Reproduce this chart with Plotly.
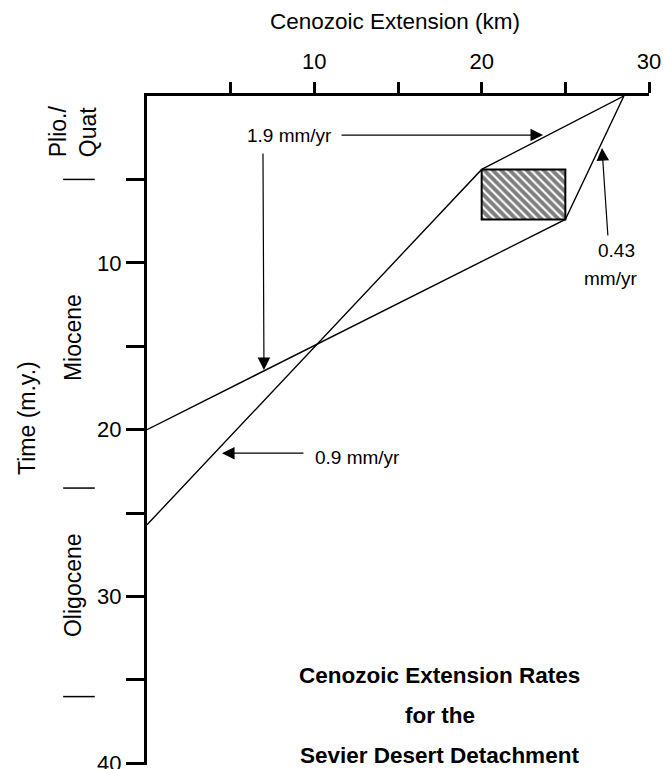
import plotly.graph_objects as go

# Extension (km) vs. time before present (m.y.) for two bounding histories
path_a_km = [28.5, 20.0, 0.0]
path_a_my = [0.0, 4.4, 25.7]
path_b_km = [28.5, 25.0, 0.0]
path_b_my = [0.0, 7.4, 20.0]

# Hatched box: range of extension between the two paths
box_km = [20.0, 25.0]
box_my = [4.4, 7.4]

# Axis ticks
x_tickvals = [5, 10, 15, 20, 25, 30]
x_ticktext = ["", "10", "", "20", "", "30"]
y_tickvals = [5, 10, 15, 20, 25, 30, 35, 40]
y_ticktext = ["", "10", "", "20", "", "30", "", "40"]

# Epoch boundaries (m.y.) and epoch names
epoch_bounds = [5.0, 23.5, 36.0]
epoch_names = ["Plio./<br>Quat", "Miocene", "Oligocene"]
epoch_label_my = [2.1, 14.5, 29.3]

FONT = "Liberation Sans, Arial, sans-serif"

fig = go.Figure()

for xs, ys in [(path_a_km, path_a_my), (path_b_km, path_b_my)]:
    fig.add_trace(go.Scatter(x=xs, y=ys, mode="lines",
                             line=dict(color="black", width=1.4),
                             hoverinfo="skip", showlegend=False))

fig.add_trace(go.Scatter(
    x=[box_km[0], box_km[1], box_km[1], box_km[0], box_km[0]],
    y=[box_my[0], box_my[0], box_my[1], box_my[1], box_my[0]],
    mode="lines", fill="toself",
    fillcolor="white",
    fillpattern=dict(shape="\\", size=6, solidity=0.65,
                     fgcolor="black", bgcolor="white"),
    line=dict(color="black", width=2),
    hoverinfo="skip", showlegend=False))

fig.update_xaxes(
    range=[0, 30], side="top", automargin=False,
    showline=True, linecolor="black", linewidth=3,
    ticks="outside", ticklen=11, tickwidth=3, tickcolor="black",
    tickvals=x_tickvals, ticktext=x_ticktext,
    ticklabelstandoff=4, ticklabeloverflow="allow",
    tickfont=dict(family=FONT, size=22, color="black"),
    showgrid=False, zeroline=False, fixedrange=True)

fig.update_yaxes(
    range=[40.1, 0], automargin=False,
    showline=True, linecolor="black", linewidth=3,
    ticks="outside", ticklen=18, tickwidth=3, tickcolor="black",
    tickvals=y_tickvals, ticktext=y_ticktext,
    ticklabeloverflow="allow",
    tickfont=dict(family=FONT, size=22, color="black"),
    showgrid=False, zeroline=False, fixedrange=True)

ann = []
# Axis titles
ann.append(dict(text="Cenozoic Extension (km)", xref="paper", yref="paper",
                x=0.494, y=1.111, xanchor="center", yanchor="middle",
                showarrow=False,
                font=dict(family=FONT, size=22.5, color="black")))
ann.append(dict(text="Time (m.y.)", xref="paper", yref="y",
                x=-0.239, y=19.3, xanchor="center", yanchor="middle",
                showarrow=False, textangle=-90,
                font=dict(family=FONT, size=23, color="black")))

# Epoch labels
for name, ym in zip(epoch_names, epoch_label_my):
    ann.append(dict(text=name, xref="paper", yref="y",
                    x=-0.147, y=ym, xanchor="center", yanchor="middle",
                    showarrow=False, textangle=-90, align="left",
                    font=dict(family=FONT, size=23, color="black")))

# Rate labels
rate_font = dict(family=FONT, size=19, color="black")
ann.append(dict(text="1.9 mm/yr", x=5.86, y=2.34, xanchor="left",
                yanchor="middle", showarrow=False, font=rate_font))
ann.append(dict(text="0.9 mm/yr", x=9.92, y=21.65, xanchor="left",
                yanchor="middle", showarrow=False, font=rate_font))
ann.append(dict(text="0.43", x=28.03, y=9.24, xanchor="center",
                yanchor="middle", showarrow=False, font=rate_font))
ann.append(dict(text="mm/yr", x=27.67, y=10.91, xanchor="center",
                yanchor="middle", showarrow=False, font=rate_font))

# Pointer arrows (head on the line, tail offset in pixels)
arrow_style = dict(text="", showarrow=True, arrowhead=2, arrowsize=2.1,
                   arrowwidth=1.2, arrowcolor="black", standoff=0,
                   startstandoff=0)
for hx, hy, ax, ay in [(23.67, 2.34, -203, 0),
                       (6.99, 16.43, -1, -218),
                       (4.48, 21.41, 83, 0),
                       (27.19, 3.12, 6, 89)]:
    ann.append(dict(x=hx, y=hy, ax=ax, ay=ay, **arrow_style))

# Caption
for txt, ym in [("Cenozoic Extension Rates", 34.72),
                ("for the", 37.12),
                ("Sevier Desert Detachment", 39.52)]:
    ann.append(dict(text=f"<b>{txt}</b>", x=17.5, y=ym,
                    xanchor="center", yanchor="middle", showarrow=False,
                    font=dict(family=FONT, size=22.5, color="black")))

shapes = []
for b in epoch_bounds:
    shapes.append(dict(type="line", xref="paper", yref="y",
                       x0=-0.167, x1=-0.104, y0=b, y1=b,
                       line=dict(color="black", width=1.5)))

fig.update_layout(
    width=664, height=769,
    margin=dict(l=147, r=15, t=96, b=4, autoexpand=False),
    paper_bgcolor="white", plot_bgcolor="white",
    annotations=ann, shapes=shapes,
    showlegend=False)

fig.write_html("out.html", config={"displayModeBar": False})
